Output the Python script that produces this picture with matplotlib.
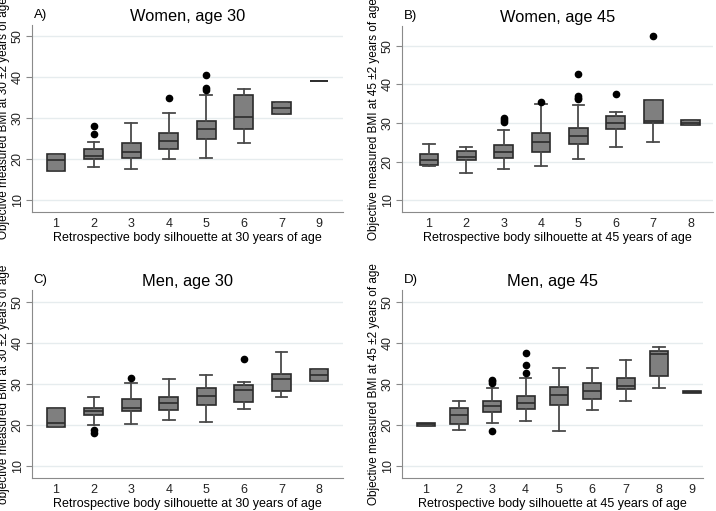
import matplotlib.pyplot as plt

plt.rcParams['font.family'] = ['Liberation Sans', 'DejaVu Sans']

# Box statistics: q1, median, q3, whisker low/high, outliers
# Panel A: Women, age 30
a_cats = ["1", "2", "3", "4", "5", "6", "7", "9"]
a_q1 = [16.9, 20.0, 20.15, 22.35, 24.9, 27.3, 30.9, 39.1]
a_med = [19.75, 20.65, 21.7, 24.3, 27.4, 30.1, 32.4, 39.1]
a_q3 = [21.1, 22.35, 23.75, 26.4, 29.3, 35.5, 33.8, 39.1]
a_lo = [16.9, 18.05, 17.55, 19.9, 20.2, 23.9, 30.9, 39.1]
a_hi = [21.1, 24.0, 28.7, 31.3, 35.6, 37.0, 33.8, 39.1]
a_out = [[], [26.1, 28.0], [], [34.9], [36.9, 37.4, 40.4], [], [], []]

# Panel B: Women, age 45
b_cats = ["1", "2", "3", "4", "5", "6", "7", "8"]
b_q1 = [19.05, 20.35, 20.95, 22.4, 24.7, 28.5, 30.1, 29.5]
b_med = [20.5, 21.2, 22.4, 25.2, 26.6, 30.0, 30.6, 30.0]
b_q3 = [22.05, 22.9, 24.2, 27.5, 28.8, 31.7, 35.9, 30.9]
b_lo = [18.9, 17.2, 18.2, 18.9, 20.8, 23.7, 25.0, 29.5]
b_hi = [24.55, 23.85, 28.3, 34.9, 34.6, 32.9, 35.9, 30.9]
b_out = [[], [], [30.4, 30.9, 31.4], [35.45], [36.1, 36.6, 37.1, 42.8], [37.6], [52.5], []]

# Panel C: Men, age 30
c_cats = ["1", "2", "3", "4", "5", "6", "7", "8"]
c_q1 = [19.5, 22.4, 23.5, 23.6, 24.9, 25.6, 28.4, 30.7]
c_med = [20.6, 23.5, 24.3, 25.4, 27.1, 28.7, 31.2, 32.2]
c_q3 = [24.3, 24.2, 26.3, 26.8, 29.1, 29.8, 32.6, 33.7]
c_lo = [19.5, 20.0, 20.3, 21.3, 20.8, 24.0, 26.9, 30.7]
c_hi = [24.3, 26.8, 30.4, 31.3, 32.3, 30.5, 37.9, 33.7]
c_out = [[], [18.2, 18.7], [31.5], [], [], [36.2], [], []]

# Panel D: Men, age 45
d_cats = ["1", "2", "3", "4", "5", "6", "7", "8", "9"]
d_q1 = [19.85, 20.3, 23.25, 24.0, 25.0, 26.5, 28.9, 32.0, 27.8]
d_med = [20.25, 22.4, 24.7, 25.4, 27.4, 28.4, 29.5, 37.3, 28.1]
d_q3 = [20.65, 24.1, 26.0, 27.2, 29.35, 30.4, 31.6, 38.2, 28.45]
d_lo = [19.85, 18.8, 20.5, 21.1, 18.5, 23.6, 25.85, 29.1, 27.8]
d_hi = [20.65, 26.0, 29.1, 31.5, 34.0, 34.0, 35.8, 39.1, 28.45]
d_out = [[], [], [18.6, 30.4, 30.8, 31.1], [32.8, 34.6, 37.7], [], [], [], [], []]

W, H = 716, 511
fig = plt.figure(figsize=(W / 100, H / 100), dpi=100)


def px_rect(left, top, right, bottom):
    return [left / W, 1 - bottom / H, (right - left) / W, (bottom - top) / H]


panels = [
    ("A)", "Women, age 30", a_cats, a_q1, a_med, a_q3, a_lo, a_hi, a_out,
     px_rect(32, 25, 343, 212), (0.36, 8.64), (7.0, 52.7), 0.5,
     "Objective measured BMI at 30 \u00b12 years of age",
     "Retrospective body silhouette at 30 years of age"),
    ("B)", "Women, age 45", b_cats, b_q1, b_med, b_q3, b_lo, b_hi, b_out,
     px_rect(402, 26, 713, 212), (0.28, 8.6), (7.0, 55.1), 0.5,
     "Objective measured BMI at 45 \u00b12 years of age",
     "Retrospective body silhouette at 45 years of age"),
    ("C)", "Men, age 30", c_cats, c_q1, c_med, c_q3, c_lo, c_hi, c_out,
     px_rect(32, 290, 343, 478), (0.36, 8.64), (7.1, 53.0), 0.5,
     "objective measured BMI at 30 \u00b12 years of age",
     "Retrospective body silhouette at 30 years of age"),
    ("D)", "Men, age 45", d_cats, d_q1, d_med, d_q3, d_lo, d_hi, d_out,
     px_rect(402, 290, 703, 478), (0.29, 9.32), (7.1, 53.0), 0.54,
     "Objective measured BMI at 45 \u00b12 years of age",
     "Retrospective body silhouette at 45 years of age"),
]

for (tag, title, cats, q1, med, q3, lo, hi, out, rect, xlim, ylim, bw,
     ylabel, xlabel) in panels:
    ax = fig.add_axes(rect)
    stats = []
    for i in range(len(cats)):
        stats.append(dict(q1=q1[i], med=med[i], q3=q3[i],
                          whislo=lo[i], whishi=hi[i], fliers=out[i]))
    pos = list(range(1, len(cats) + 1))
    ax.bxp(stats, positions=pos, widths=bw, capwidths=bw * 0.62,
           patch_artist=True, showfliers=True,
           boxprops=dict(facecolor='#7f7f7f', edgecolor='#2b2b2b', linewidth=1.2),
           medianprops=dict(color='#2b2b2b', linewidth=1.2),
           whiskerprops=dict(color='#4a4a4a', linewidth=1.3),
           capprops=dict(color='#4a4a4a', linewidth=1.3),
           flierprops=dict(marker='o', markerfacecolor='black',
                           markeredgecolor='black', markersize=4.5))
    ax.set_xlim(*xlim)
    ax.set_ylim(*ylim)
    ax.set_xticks(pos)
    ax.set_xticklabels(cats)
    ax.set_yticks([10, 20, 30, 40, 50])
    ax.set_yticklabels(["10", "20", "30", "40", "50"], rotation=90, va='center')
    ax.tick_params(axis='x', length=0, labelsize=9, pad=4, colors='#222222')
    ax.tick_params(axis='y', length=4, labelsize=9, pad=2, color='#888888',
                   labelcolor='#222222')
    ax.yaxis.grid(True, color='#e6ecee', linewidth=1.0)
    ax.set_axisbelow(True)
    for s in ['top', 'right']:
        ax.spines[s].set_visible(False)
    for s in ['left', 'bottom']:
        ax.spines[s].set_color('#8a8a8a')
    ax.set_title(title, fontsize=11.8, pad=3)
    ax.text(0.005, 1.035, tag, transform=ax.transAxes, fontsize=9.5)
    ax.set_xlabel(xlabel, fontsize=9, labelpad=2)
    ax.set_ylabel(ylabel, fontsize=8.5, labelpad=1)

fig.savefig("out.png", dpi=100)
